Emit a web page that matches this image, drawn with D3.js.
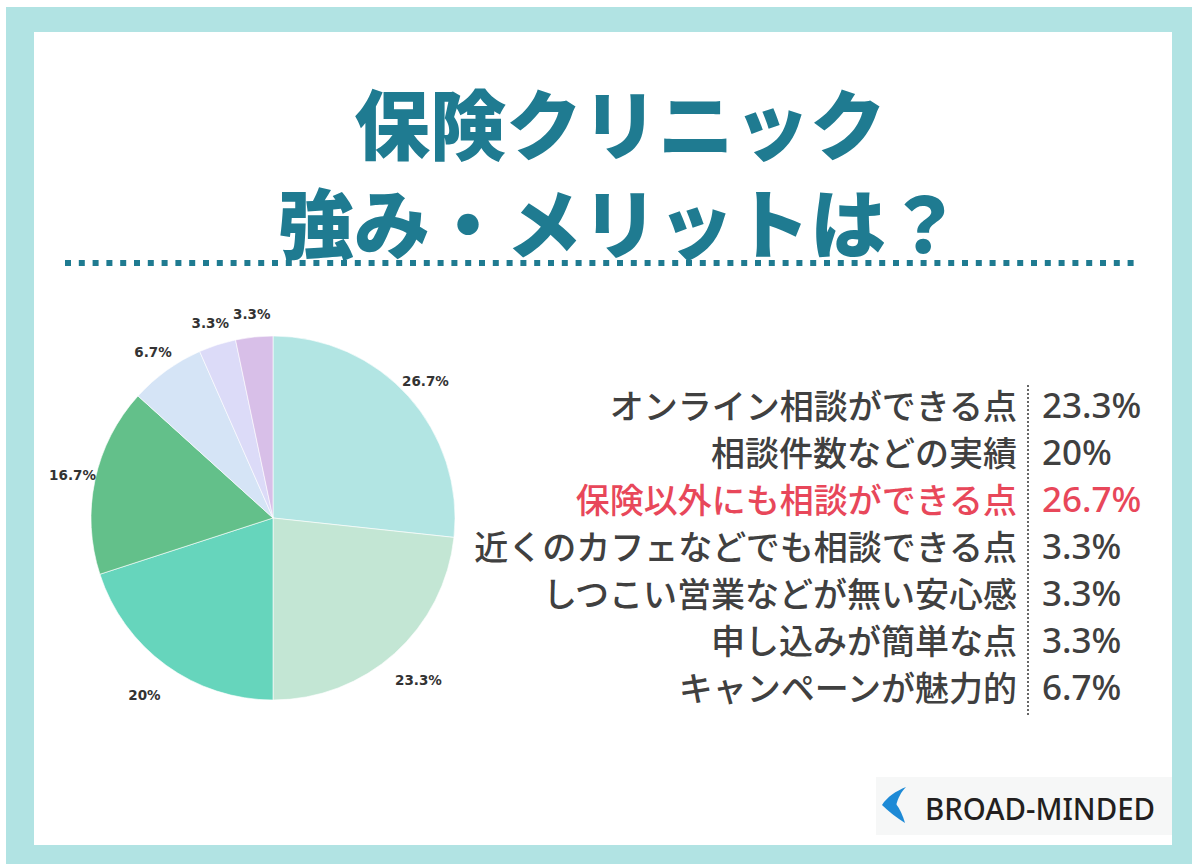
<!DOCTYPE html>
<html>
<head>
<meta charset="utf-8">
<script src="https://cdn.jsdelivr.net/npm/d3@7"></script>
<style>
  body { margin: 0; background: #fff; }
  svg { display: block; }
</style>
</head>
<body>
<div id="viz"></div>
<script>
// pie slices, clockwise from 12 o'clock
var pieValues = [26.7, 23.3, 20, 16.7, 6.7, 3.3, 3.3]
var pieColors = ["#b2e5e3", "#c3e6d4", "#66d5bc", "#63c08a", "#d5e4f6", "#dcdbf8", "#d8bfe8"]

// list on the right
var itemLabels = [
  "オンライン相談ができる点",
  "相談件数などの実績",
  "保険以外にも相談ができる点",
  "近くのカフェなどでも相談できる点",
  "しつこい営業などが無い安心感",
  "申し込みが簡単な点",
  "キャンペーンが魅力的"
]
var itemValues = [23.3, 20, 26.7, 3.3, 3.3, 3.3, 6.7]
var highlightItem = "保険以外にも相談ができる点"

var titleLines = ["保険クリニック", "強み・メリットは？"]
var brandName = "BROAD-MINDED"

var W = 1196, H = 864
var teal = "#b1e3e3"
var titleColor = "#1f7b91"
var textColor = "#404040"
var redColor = "#e8475a"

function fmt(v) {
  return (v % 1 === 0 ? v : v.toFixed(1)) + "%"
}

var svg = d3.select("#viz")
  .append("svg")
    .attr("width", W)
    .attr("height", H)

// frame
svg.append("rect")
  .attr("x", 6).attr("y", 7)
  .attr("width", 1186).attr("height", 857)
  .attr("fill", teal)
svg.append("rect")
  .attr("x", 34).attr("y", 32)
  .attr("width", 1138).attr("height", 813)
  .attr("fill", "#ffffff")

// title, two tight lines
svg.selectAll(".title")
  .data(titleLines)
  .enter()
  .append("text")
    .attr("class", "title")
    .attr("x", 620)
    .attr("y", function(d, i) { return 121 + i * 99 })
    .attr("text-anchor", "middle")
    .attr("dominant-baseline", "central")
    .attr("font-family", "'Noto Sans CJK JP', sans-serif")
    .attr("font-weight", 900)
    .attr("font-size", 76)
    .attr("fill", titleColor)
    .text(function(d) { return d })

// dotted rule under the title
svg.append("line")
  .attr("x1", 65).attr("x2", 1138)
  .attr("y1", 263).attr("y2", 263)
  .attr("stroke", titleColor)
  .attr("stroke-width", 6)
  .attr("stroke-dasharray", "6 7.8")

// pie
var cx = 273, cy = 518, radius = 182
var pie = d3.pie().sort(null).value(function(d) { return d })
var arc = d3.arc().innerRadius(0).outerRadius(radius)
var color = d3.scaleOrdinal().domain(d3.range(pieValues.length)).range(pieColors)

var g = svg.append("g")
  .attr("transform", "translate(" + cx + "," + cy + ")")

var slices = pie(pieValues)

g.selectAll("path")
  .data(slices)
  .enter()
  .append("path")
    .attr("d", arc)
    .attr("fill", function(d, i) { return color(i) })
    .attr("stroke", "#ffffff")
    .attr("stroke-width", 0.6)

// labels sit a bit further out on the lower half
g.selectAll(".plabel")
  .data(slices)
  .enter()
  .append("text")
    .attr("class", "plabel")
    .attr("transform", function(d) {
      var a = (d.startAngle + d.endAngle) / 2
      var r = 205 + 17 * Math.max(0, -Math.cos(a))
      return "translate(" + (r * Math.sin(a)) + "," + (-r * Math.cos(a)) + ")"
    })
    .attr("text-anchor", "middle")
    .attr("dominant-baseline", "central")
    .attr("font-family", "'DejaVu Sans', sans-serif")
    .attr("font-weight", "bold")
    .attr("font-size", 13.5)
    .attr("fill", "#333333")
    .text(function(d) { return fmt(d.data) })

// list rows
var y = d3.scalePoint()
  .domain(itemLabels)
  .range([404, 686])

var rows = svg.selectAll(".row")
  .data(itemLabels)
  .enter()
  .append("g")
    .attr("class", "row")
    .attr("transform", function(d) { return "translate(0," + y(d) + ")" })

rows.append("text")
  .attr("x", 1017)
  .attr("text-anchor", "end")
  .attr("dominant-baseline", "central")
  .attr("font-family", "'Noto Sans CJK JP', sans-serif")
  .attr("font-weight", 500)
  .attr("font-size", 34)
  .attr("fill", function(d) { return d === highlightItem ? redColor : textColor })
  .text(function(d) { return d })

rows.append("text")
  .attr("x", 1042)
  .attr("dominant-baseline", "central")
  .attr("font-family", "'Noto Sans', sans-serif")
  .attr("font-weight", 500)
  .attr("font-size", 35)
  .attr("fill", function(d) { return d === highlightItem ? redColor : textColor })
  .text(function(d, i) { return fmt(itemValues[i]) })

// dotted divider between labels and values
svg.append("line")
  .attr("x1", 1028).attr("x2", 1028)
  .attr("y1", 385).attr("y2", 717)
  .attr("stroke", "#666666")
  .attr("stroke-width", 2)
  .attr("stroke-dasharray", "2 2")

// brand box
svg.append("rect")
  .attr("x", 876).attr("y", 777)
  .attr("width", 296).attr("height", 58)
  .attr("fill", "#f6f7f7")

var logo = svg.append("g").attr("transform", "translate(882,787)")
logo.append("path")
  .attr("d", "M24,0 C14,4 5,10 0,18 L14,19 C16,11 19,5 24,0 Z")
  .attr("fill", "#1e8ad6")
logo.append("path")
  .attr("d", "M0,18 C7,25 15,31 23,36 C21,29 18,22 14,17 Z")
  .attr("fill", "#1e8ad6")

svg.append("text")
  .attr("x", 925)
  .attr("y", 820)
  .attr("font-family", "'Noto Sans', sans-serif")
  .attr("font-weight", 500)
  .attr("font-size", 31)
  .attr("textLength", 230)
  .attr("lengthAdjust", "spacingAndGlyphs")
  .attr("fill", "#231f20")
  .text(brandName)
</script>
</body>
</html>
